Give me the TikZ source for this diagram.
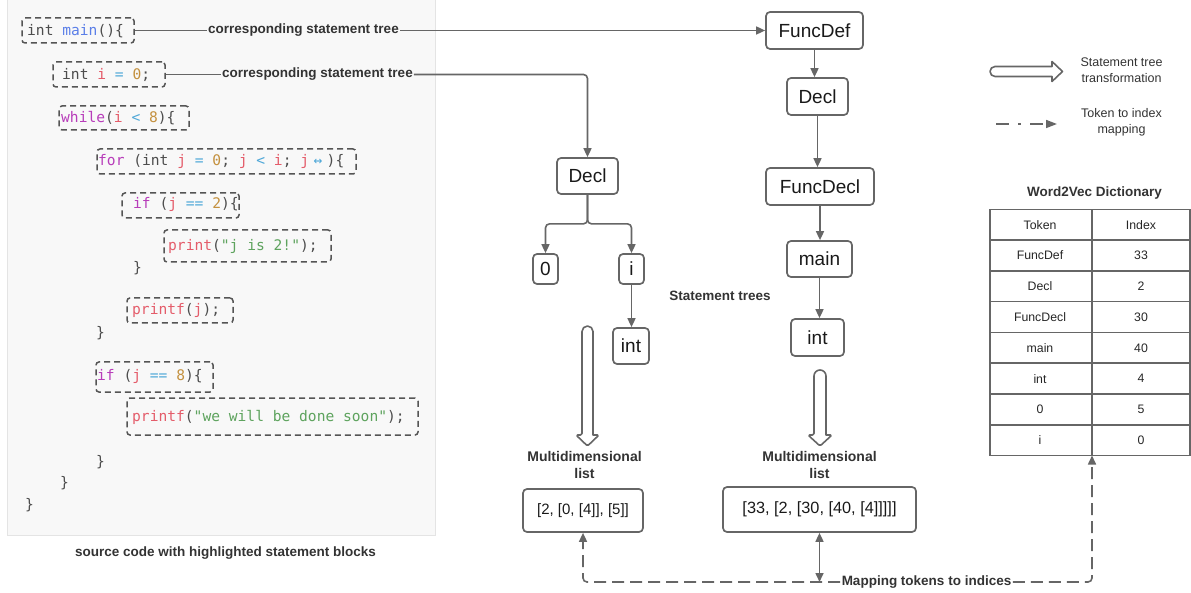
\documentclass[tikz,border=0pt]{standalone}
\usepackage{fontspec}
\setmainfont{Liberation Sans}
\newfontfamily\codefont{DejaVu Sans Mono}
\usetikzlibrary{arrows.meta}
\definecolor{lc}{HTML}{666666}
\definecolor{codeTxt}{HTML}{4D4D4D}
\definecolor{kwPurple}{HTML}{B83DBA}
\definecolor{varRed}{HTML}{E45C6A}
\definecolor{opBlue}{HTML}{4FA8D8}
\definecolor{numOr}{HTML}{C4913F}
\definecolor{strGr}{HTML}{5EA35E}
\definecolor{fnBlue}{HTML}{5B7FE8}
\definecolor{panel}{HTML}{F8F8F8}
\definecolor{panelEdge}{HTML}{E4E4E4}
\definecolor{boxEdge}{HTML}{555555}
\definecolor{lblTxt}{HTML}{333333}
\newcommand\cKW[1]{\textcolor{kwPurple}{#1}}
\newcommand\cVR[1]{\textcolor{varRed}{#1}}
\newcommand\cOP[1]{\textcolor{opBlue}{#1}}
\newcommand\cNU[1]{\textcolor{numOr}{#1}}
\newcommand\cSTR[1]{\textcolor{strGr}{#1}}
\newcommand\cFN[1]{\textcolor{fnBlue}{#1}}
\begin{document}
\begin{tikzpicture}[x=1pt,y=-1pt,
  tnode/.style={draw=lc, line width=1.7, rounded corners=4, inner sep=0pt, font=\fontsize{19}{22}\selectfont, text=black!90},
  lnode/.style={draw=lc, line width=1.7, rounded corners=4, inner sep=0pt, text=black!90},
  cbox/.style={draw=boxEdge, line width=1.5, dash pattern=on 6pt off 4pt, rounded corners=3, inner sep=0pt},
  ctxt/.style={anchor=west, inner sep=0pt, font=\codefont\fontsize{14.6}{17}\selectfont, text=codeTxt},
  tip/.style={Triangle[length=9pt,width=8pt]},
  conn/.style={draw=lc, line width=1.6, -{Triangle[length=9pt,width=8pt]}},
  blbl/.style={font=\bfseries\fontsize{13.5}{16.5}\selectfont, text=lblTxt, inner sep=1pt, align=center},
  leg/.style={font=\fontsize{12.5}{16}\selectfont, text=lblTxt, inner sep=0pt, align=center},
  cell/.style={font=\fontsize{12.3}{14}\selectfont, text=black!85, inner sep=0pt},
  hollow/.style={draw=lc, line width=1.6, fill=white, line join=round},
  dashln/.style={draw=lc, line width=1.6, dash pattern=on 12pt off 6pt}
]
\useasboundingbox (0,0) rectangle (1191,593);
% code panel
\fill[panel] (7,0) rectangle (435,535);
\draw[panelEdge, line width=1] (7,0) -- (7,535) -- (435,535) -- (435,0);

% code boxes
\node[cbox, minimum width=112, minimum height=25] (b1) at (78,30.5) {};
\node[cbox, minimum width=112, minimum height=25] (b2) at (109,74.5) {};
\node[cbox, minimum width=130, minimum height=24] (b3) at (124,118) {};
\node[cbox, minimum width=259, minimum height=25] (b4) at (226.5,161.5) {};
\node[cbox, minimum width=117, minimum height=25] (b5) at (180.5,205.5) {};
\node[cbox, minimum width=167, minimum height=32] (b6) at (247.5,246) {};
\node[cbox, minimum width=106, minimum height=25] (b7) at (180,310.5) {};
\node[cbox, minimum width=117, minimum height=30] (b8) at (154.5,377) {};
\node[cbox, minimum width=291, minimum height=37] (b9) at (272.5,416.5) {};

% code text
\node[ctxt] (c1) at (27,31) {int \cFN{main}()\{};
\node[ctxt] (c2) at (62,74.5) {int \cVR{i} \cOP{=} \cNU{0};};
\node[ctxt] (c3) at (61,118) {\cKW{while}(\cVR{i} \cOP{<} \cNU{8})\{};
\node[ctxt] (c4) at (98,161.5) {\cKW{for} (int \cVR{j} \cOP{=} \cNU{0}; \cVR{j} \cOP{<} \cVR{i}; \cVR{j}\cOP{\makebox[1.204em]{↔}})\{};
\node[ctxt] (c5) at (133,204) {\cKW{if} (\cVR{j} \cOP{==} \cNU{2})\{};
\node[ctxt] (c6) at (168,246.5) {\cVR{print}(\cSTR{"j is 2!"});};
\node[ctxt] (c7) at (133,268) {\}};
\node[ctxt] (c8) at (132,310.5) {\cVR{printf}(\cVR{j});};
\node[ctxt] (c9) at (96,333) {\}};
\node[ctxt] (c10) at (97,376) {\cKW{if} (\cVR{j} \cOP{==} \cNU{8})\{};
\node[ctxt] (c11) at (132,417) {\cVR{printf}(\cSTR{"we will be done soon"});};
\node[ctxt] (c12) at (96,462) {\}};
\node[ctxt] (c13) at (60,483) {\}};
\node[ctxt] (c14) at (25,505) {\}};

\node[blbl] (cap) at (225.5,553) {source code with highlighted statement blocks};

% tree nodes
\node[tnode, minimum width=97, minimum height=37] (fd) at (814.5,30.5) {FuncDef};
\node[tnode, minimum width=61, minimum height=37] (dr) at (817.5,96.5) {Decl};
\node[tnode, minimum width=108, minimum height=37] (fdc) at (820,186.5) {FuncDecl};
\node[tnode, minimum width=65, minimum height=36] (mn) at (819.5,259) {main};
\node[tnode, minimum width=53, minimum height=37] (ir) at (817.5,337.5) {int};
\node[tnode, minimum width=61, minimum height=36] (dl) at (587.5,176) {Decl};
\node[tnode, minimum width=25, minimum height=30] (n0) at (545.5,269) {0};
\node[tnode, minimum width=25, minimum height=30] (ni) at (631.5,269) {i};
\node[tnode, minimum width=36, minimum height=36] (il) at (631,346) {int};

% code-to-tree connectors
\node[blbl, fill=panel] (lab1) at (303.5,30.5) {corresponding statement tree};
\node[blbl, fill=panel] (lab2) at (317.5,74.5) {corresponding statement tree};
\draw[draw=lc, line width=1.6] (b1.east) -- (lab1.west);
\draw[conn] (lab1.east) -- (fd.west);
\draw[draw=lc, line width=1.6] (b2.east) -- (lab2.west);
\draw[conn, rounded corners=4] (lab2.east) -| (dl.north);

% tree edges
\draw[conn] (fd.south) -- (fd.south |- dr.north);
\draw[conn] (dr.south) -- (dr.south |- fdc.north);
\draw[conn] (fdc.south) -- (fdc.south |- mn.north);
\draw[conn] (mn.south) -- (mn.south |- ir.north);
\draw[conn, rounded corners=4] (dl.south) -- ++(0,29) -| (n0.north);
\draw[conn, rounded corners=4] (dl.south) -- ++(0,29) -| (ni.north);
\draw[conn] (ni.south) -- (ni.south |- il.north);

\node[blbl] (st) at (720,295.5) {Statement trees};

% hollow block arrows
\draw[hollow] (582,435) [rounded corners=5.5] -- (582,326) -- (593,326) [sharp corners] -- (593,435) [rounded corners=1.5] -- (599,435) -- (587.5,446) -- (576,435) -- cycle;
\draw[hollow] (814,435) [rounded corners=6] -- (814,370) -- (826,370) [sharp corners] -- (826,435) [rounded corners=1.5] -- (832,435) -- (820,446) -- (808,435) -- cycle;

\node[blbl, font=\bfseries\fontsize{14}{17}\selectfont] (md1) at (584.5,464.5) {Multidimensional\\list};
\node[blbl, font=\bfseries\fontsize{14}{17}\selectfont] (md2) at (819.5,464.5) {Multidimensional\\list};

\node[lnode, minimum width=120, minimum height=43, font=\fontsize{15}{18}\selectfont] (l1) at (583,510.5) {[2, [0, [4]], [5]]};
\node[lnode, minimum width=193, minimum height=45, font=\fontsize{16.3}{19}\selectfont] (l2) at (819.5,509.5) {[33, [2, [30, [40, [4]]]]]};

% legend
\draw[hollow] (1052,76.5) -- (1052,81.5) -- (1062.5,71.5) -- (1052,61.5) -- (1052,66.5) [rounded corners=5] -- (990,66.5) -- (990,76.5) -- (1040,76.5) [sharp corners] -- cycle;
\node[leg] (lg1) at (1121.5,70) {Statement tree\\transformation};
\coordinate (lga) at (996,124);
\coordinate (lgb) at (1057,124);
\draw[draw=lc, line width=1.6, dash pattern=on 13pt off 9pt on 3pt off 9pt, -{Triangle[length=11pt,width=8pt]}] (lga) -- (lgb);
\node[leg] (lg2) at (1121.5,122.5) {Token to index\\mapping};

% dictionary table
\node[blbl] (w2v) at (1094.5,193) {Word2Vec Dictionary};
\draw[lc, line width=1.5] (990,209.5) rectangle (1190,455.5);
\foreach \k in {1,...,7} { \draw[lc, line width=1.5] (990,{209.5+30.75*\k}) -- (1190,{209.5+30.75*\k}); }
\draw[lc, line width=1.5] (1092,209.5) -- (1092,455.5);
\foreach \t/\v [count=\k] in {Token/Index, FuncDef/33, Decl/2, FuncDecl/30, main/40, int/4, 0/5, i/0} {
  \node[cell] (tk\k) at (1040,{194.1+30.75*\k}) {\t};
  \node[cell] (ix\k) at (1141,{194.1+30.75*\k}) {\v};
}
\coordinate (tblbot) at (1092,455.5);

% mapping connectors
\node[blbl, fill=white, inner sep=1.5pt] (map) at (926.5,582) {Mapping tokens to indices};
\draw[dashln, rounded corners=4, -{Triangle[length=9pt,width=8pt]}] (map.west) -| (l1.south);
\draw[dashln, rounded corners=4, -{Triangle[length=9pt,width=8pt]}] (map.east) -| (tblbot);
\coordinate (mj) at (l2.south |- map.west);
\draw[draw=lc, line width=1.6, {Triangle[length=9pt,width=8pt]}-{Triangle[length=9pt,width=8pt]}] (l2.south) -- (mj);
\end{tikzpicture}
\end{document}
